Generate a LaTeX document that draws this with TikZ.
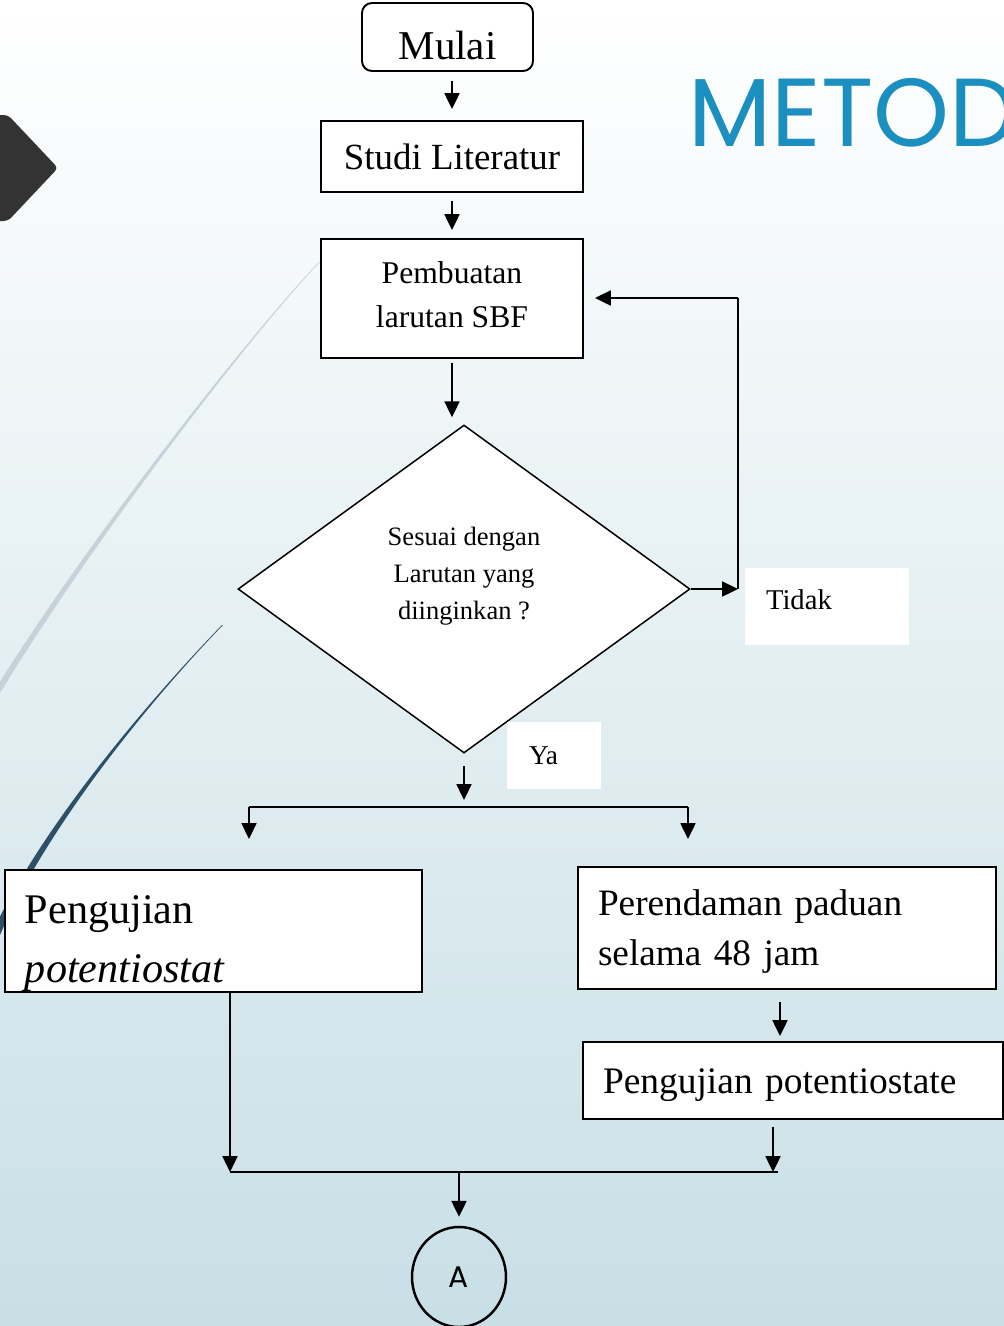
\documentclass[tikz,border=0pt]{standalone}
\usepackage{fontspec}
\setmainfont{Liberation Serif}
\newfontfamily\titlefont{Poppins}
\usetikzlibrary{arrows.meta,positioning,calc,shapes.geometric}
\definecolor{bgblue}{RGB}{200,223,230}
\definecolor{arclight}{RGB}{198,210,218}
\definecolor{arcdark}{RGB}{45,80,105}
\definecolor{chevgray}{RGB}{51,51,51}
\definecolor{titleblue}{RGB}{26,143,192}

\begin{document}
\begin{tikzpicture}[x=0.2mm,y=-0.2mm,>={Triangle[length=9pt,width=8.5pt]},
box/.style={draw=black,line width=1.1pt,fill=white,inner sep=0pt,align=center},
decision/.style={diamond,draw=black,line width=0.85pt,fill=white,inner sep=0pt},
tag/.style={fill=white,inner sep=0pt,align=left},
flow/.style={->,line width=1.1pt},
link/.style={line width=1.1pt}]
\useasboundingbox (0,0) rectangle (1004,1326);
\clip (0,0) rectangle (1004,1326);
\shade[top color=white,bottom color=bgblue] (0,0) rectangle (1004,1326);
\fill[arclight] (320,262) .. controls (250,335) and (90,545) .. (0,693)
  -- (-7,693) .. controls (84,545) and (249,335) .. (319,262) -- cycle;
\fill[arcdark] (223,625) .. controls (160,690) and (50,820) .. (0,935)
  -- (-9,935) .. controls (44,820) and (159,690) .. (222,625) -- cycle;
\fill[chevgray,rounded corners=0.8mm] (-10,115) -- (8,115) -- (58,168) -- (8,221) -- (-10,221) -- cycle;
\node[anchor=base west,inner sep=0pt,text=titleblue,font=\titlefont\fontsize{55}{55}\selectfont] (judul) at (688,146) {METOD};

\node[box,rounded corners=2mm,minimum width=34.2mm,minimum height=13.6mm,text height=32.4pt,text depth=6.3pt,font=\fontsize{23.3}{28}\selectfont] (mulai) at (447.5,37) {Mulai};
\node[box,minimum width=52.4mm,minimum height=14.2mm,font=\fontsize{21}{25}\selectfont] (studi) at (452,156.5) {Studi Literatur};
\node[box,minimum width=52.4mm,minimum height=23.8mm,text depth=4.6pt,font=\fontsize{18}{25.5}\selectfont] (sbf) at (452,298.5) {Pembuatan\\larutan SBF};
\node[decision,minimum width=90.4mm,minimum height=65.6mm] (cek) at (464,589) {};
\node[align=center,font=\fontsize{15.1}{21}\selectfont] (cektext) at (464,576) {Sesuai dengan\\Larutan yang\\diinginkan ?};
\node[tag,minimum width=32.8mm,minimum height=15.4mm,text width=24.4mm,text depth=8pt,font=\fontsize{16.3}{20}\selectfont] (tidak) at (827,606.5) {Tidak};
\node[tag,minimum width=18.8mm,minimum height=13.4mm,text width=10mm,font=\fontsize{15.5}{20}\selectfont] (ya) at (554,755.5) {Ya};
\node[box,minimum width=83.4mm,minimum height=24.4mm,text width=75.4mm,align=left,text height=30.2pt,text depth=39.3pt,font=\fontsize{24}{33.6}\selectfont] (uji) at (213.5,931) {Pengujian\\\textit{potentiostat}};
\node[box,minimum width=83.6mm,minimum height=24.4mm,text width=75.6mm,align=left,text height=19pt,font=\fontsize{21.2}{28.5}\selectfont] (rendam) at (787,928) {Perendaman paduan\\selama 48 jam};
\node[box,minimum width=84mm,minimum height=15.4mm,text width=76mm,align=left,text height=19pt,font=\fontsize{21.3}{26}\selectfont] (ujiakhir) at (793,1080.5) {Pengujian potentiostate};
\node[ellipse,draw=black,line width=1.4pt,minimum width=18.8mm,minimum height=20mm,inner sep=0pt,font=\titlefont\fontsize{17}{17}\selectfont] (konA) at (459,1277) {A};

\coordinate (tidakbelok) at (738,589);
\coordinate (balik) at (738,298);
\coordinate (cabang) at (464,807);
\coordinate (cabangkiri) at (249,807);
\coordinate (cabangkanan) at (688,807);
\coordinate (gabungkiri) at (230,1172);
\coordinate (gabungkanan) at (778,1172);
\coordinate (gabung) at (459,1172);

\draw[flow,shorten <=1.8mm,shorten >=2.2mm] (studi.north |- mulai.south) -- (studi.north);
\draw[flow,shorten <=1.6mm,shorten >=1.6mm] (studi) -- (sbf);
\draw[flow,shorten <=0.8mm,shorten >=1.4mm] (sbf) -- (sbf |- cek.north);
\draw[flow] (cek.east) -- (tidakbelok);
\draw[link] (tidakbelok) -- (balik);
\draw[flow,shorten >=2.2mm] (balik) -- (sbf.east |- balik);
\draw[flow,shorten <=2.4mm,shorten >=1.4mm] (cek.south) -- (cabang);
\draw[link] (cabangkiri) -- (cabangkanan);
\draw[flow,shorten >=6mm] (cabangkiri) -- (cabangkiri |- uji.north);
\draw[flow,shorten >=5.4mm] (cabangkanan) -- (cabangkanan |- rendam.north);
\draw[flow,shorten <=2.4mm,shorten >=1mm] (rendam.south -| 780,0) -- (ujiakhir.north -| 780,0);
\draw[flow] (uji.south -| gabungkiri) -- (gabungkiri);
\draw[flow,shorten <=1.4mm] (ujiakhir.south -| 773,0) -- (773,1172);
\draw[link] (gabungkiri) -- (gabungkanan);
\draw[flow,shorten >=1.8mm] (gabung) -- (konA.north);
\end{tikzpicture}
\end{document}
